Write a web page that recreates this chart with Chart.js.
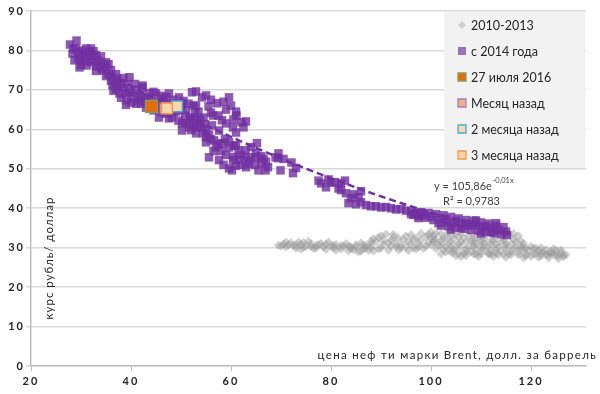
<!DOCTYPE html>
<html><head><meta charset="utf-8">
<script src="https://cdn.jsdelivr.net/npm/chart.js"></script>
<style>html,body{margin:0;padding:0;background:#fff;}canvas{display:block;}</style>
</head><body>
<canvas id="c" width="600" height="394"></canvas>
<script>
// ---------- data ----------
const seriesNames = ['2010-2013', 'с 2014 года', '27 июля 2016', 'Месяц назад', '2 месяца назад', '3 месяца назад'];
const xTickValues = [20, 40, 60, 80, 100, 120];
const yTickValues = [0, 10, 20, 30, 40, 50, 60, 70, 80, 90];
const xTitle = 'цена неф ти марки Brent, долл. за баррель';
const yTitle = 'курс рубль/ доллар';
const eqMain = 'y = 105,86e';
const eqSup = '-0,01x';
const eqR2 = 'R² = 0,9783';

// 2010-2013 (Brent, RUB/USD)
const pts2010 = [
 [69.5,30.6],[70.5,30.9],[71,30.2],[72,31.2],[72.5,30.5],[73,29.9],[74,30.8],[74.5,31.3],[75,30.3],[76,30.9],
 [76.5,29.8],[77,30.5],[78,31],[78.5,30.2],[79,29.6],[80,30.4],[80.5,29.9],[81,30.8],[82,29.7],[82.5,30.4],
 [83,31],[84,30.2],[84.5,29.5],[85,30.7],[86,31.2],[86.5,29.8],[87,30.5],[87.5,29.3],[88,30.9],[85.5,28.9],
 [83.5,29.2],[79.5,31.4],[75.5,31.6],[73.5,31.4],
 [70,30.4],[71.5,30.7],[73,30.6],[74.5,30.1],[76,30.3],[77.5,30.8],[79,30.9],[80.5,30.6],[82,30.5],[83.5,30.4],
 [85,30.2],[86.5,30.6],[88,30.1],[71,31.4],[74,29.6],[77,29.9],[81,29.4],[84,29.8],[87,29.9],[86,29.1],[88.5,29.2],
 [88.5,32.3],[89,31.5],[90,33],[90.5,30.8],[91,33.4],[91.5,31.2],[92,30.4],[92.5,32.6],[93,31],[94,30.6],
 [94.5,32],[95,30.2],[95.5,31.5],[96,33.3],[96.5,30],[97,32.4],[97.5,31],[98,33.6],[98.5,29.8],[99,32.8],
 [99.5,31.2],[100,34],[89.5,29.7],[93.5,29.5],
 [88,31.6],[89.5,32.6],[90.5,31.8],[92,31.9],[93.5,32.4],[95,33],[96.5,32.2],[97,29.6],[98,31.8],[99.5,33.3],
 [90,29.9],[91.5,29.4],[94,29.9],[95.5,29.3],[97.5,30.2],[99,30.4],[92.5,33.4],[96,31],[93,30.3],[100,30.8],[100,32.6],
 [100.5,33],[101,32],[101.5,30.5],[102,33.5],[102.5,29.5],[103,32.4],[103.5,31],[104,33.2],[104.5,28.8],[105,30.2],
 [105.5,32.8],[106,31.5],[106.5,28.5],[107,29.6],[107.5,33],[108,31.8],[108.5,30.4],[109,28.3],[109.5,32.5],[110,29.2],
 [110.5,31.2],[111,33.3],[111.5,28.6],[112,30.8],[112.5,32.2],[113,29.5],[113.5,28.2],[114,31.5],[114.5,32.8],[115,29.8],
 [115.5,28.5],[116,31],[116.5,33.5],[117,30.2],[117.5,28.8],[118,29.6],[102,31.6],[104,30],[106,33.8],[108,29],
 [110,30.5],[112,28.3],[114,29.2],[116,28.2],[103,28.9],[105,27.9],[107,28],[109,30.9],[111,29.9],
 [101,33.6],[103.5,33.8],[105,33.5],[108.5,33.4],[110,33.7],[112.5,33.2],[115.5,33.3],[117.5,33],
 [100.5,32],[102.5,32.5],[104.5,32.2],[106.5,32.5],[108.5,32.2],[110.5,32.4],[112.5,31.7],[114.5,31.9],[116.5,32.2],[118,31.6],
 [100.5,31.4],[102,30.8],[104,31.4],[105.5,31],[107,31.5],[108.5,31.2],[110,31.8],[111.5,31.4],[113,30.8],[115,31],[117,31.5],[118.5,31],
 [101,29.8],[103,30.2],[104.5,29.6],[106,30.3],[107.5,30.1],[109,29.6],[110.5,30.1],[112,29.6],[113.5,30.3],[115,30.4],[116.5,29.7],[118,30.3],
 [102,28.4],[104,28.8],[105.5,28.6],[107,28.8],[108.5,28.4],[110,28.5],[111.5,28.4],[113,28.6],[114.5,28.4],[116,28.9],[117.5,28.2],[119,27.9],
 [106,27.7],[109.5,27.8],[112.5,27.8],[115,27.6],[118.5,27.5],
 [118.5,30],[119,28.5],[119.5,29.3],[120,27.8],[120.5,29.8],[121,28.6],[121.5,29.2],[122,27.9],[122.5,28.8],[123,29.5],
 [123.5,28.2],[124,29],[124.5,28.4],[125,29.3],[125.5,28],[126,28.8],[126.5,28.1],[120,30.3],[122,30],
 [119,29.8],[120.5,28.4],[121,29.9],[122,28.7],[123,28.3],[124,28.6],[125,28.1],[126,29.4],[127,28.2],[124.5,29.7],
 [126.5,27.7],[121.5,27.6],[123.5,27.4],[125.5,27.2]
];

// since 2014 (Brent, RUB/USD)
const pts2014 = [
 [96,38.5],[97,38.8],[97.5,37.5],[98,39],[98.5,38.2],[99,37.6],[99.5,38.8],[100,37.9],[100.5,37],[101,38.5],
 [101.5,36.2],[102,37.5],[102.5,38.2],[103,36.5],[103.5,35.4],[104,37.8],[104.5,36.3],[105,35.1],[105.5,37.4],[106,36.2],
 [106.5,34.8],[107,37],[107.5,35.6],[108,34.5],[108.5,36.8],[109,35.7],[109.5,34.3],[110,36.4],[110.5,35.3],[111,34],
 [111.5,36.1],[112,35],[112.5,33.7],[113,35.6],[113.5,34.4],[114,33.4],[114.5,35.2],[115,34.1],[115.2,33.2],[102,35.6],
 [104,34.6],[106,35.1],[108,35.9],[110,33.6],[112,34],[103,37.2],[105,36.8],[107,36.1],[109,36.9],[111,35.5],[113,36.2],
 [89,40.5],[90,40.2],[91,40.3],[92,40],[93,39.7],[94,39.8],[95,39.4],[96,39.2],[97,38.7],[96.5,38.3],[97.5,38],
 [83.5,41.3],[84,42.5],[85,41],[85.5,42.8],[86,41.5],[87,40.8],[88,40.5],[84.5,43.5],[86,44.3],
 [77.5,47],[78,46.3],[79,45.3],[80,46.5],[80.8,46.6],[81.5,45],[82,46.3],[82.8,47],[83,43.8],[82,44.6],[79.5,47.3],
 [68.9,52.9],[69.5,53.9],[69.9,49.6],[72.1,51.6],[70.5,52.5],[73,50.2],[72.4,48.9],[69.4,52.7],
 [60.2,49.6],[61,50.8],[62,51],[63,50.4],[63.5,52],[64,52.9],[64.9,52.9],[65.5,49.6],[66.1,51.4],[66.9,49.6],
 [67,51.8],[62.9,54.7],[61.5,54.7],[62,53.5],[60.5,53],[59.6,55.4],[61,56],[58.2,56.5],[57,55.4],[56,57.5],
 [55,58],[55,56.7],[57.6,52.2],[55.6,52.9],[58.5,51],[59.6,50.1],[64,55.5],[65,54],[66,53.2],[65.2,56.5],
 [44,65.8],[45.2,66.2],[46.5,65],[48,65],[49,66.2],[50.2,66.5],[50.8,63.4],[51.8,62.5],[52.8,64],[53.8,62.5],
 [54.8,61.3],[53.2,60.5],[52,59.8],[54.4,59],[55.6,58.7],[56.6,57.2],[57.5,56.2],[58.8,57.6],[59.6,56.8],[60.6,55.8],
 [58,54.5],[59,53.5],[60.4,52.2],[61.6,52.4],[62.8,53],[63.6,51.2],[64.8,51],[66.5,52.6],[67.4,50.4],[56.5,54.5],
 [48.5,64.3],[47.6,62.8],[46.2,64.3],
 [52.2,69.4],[53,69.6],[54.2,68.1],[55,68.6],[56,67.5],[57.2,66.6],[59.6,68.1],[58.5,67],[60,66],[61.1,63.5],
 [62.1,61.8],[61,64.5],[59,61.5],[58.2,62.3],[57.6,59.7],[56.2,61],[55,59.7],[53.6,61.5],[54.5,63],[56,64.2],
 [57.5,63.5],[59,65],[60.5,62.5],[61,59.2],[62.5,60.5],[63,62],[53,66],[55.5,65.8],[56.4,63.5],[60.4,60.5],
 [45,69.1],[47.6,69.1],[49.6,68.1],[48.5,67.5],[46.5,67.8],[50.5,67.2],[51.5,66.5],[52.5,66],[50,65.5],[48.2,63],
 [51.6,60.5],[51,61.5],[51,64.8],[53,62.3],[50.2,61.5],[53,59],[52,63],[49,64.5],[47,64],[45.6,63],
 [50.2,59.7],[54,60.5],[46,65.5],[44.5,64.8],[43,65.5],[42,66.5],[47.5,66],[53.5,64.5],[49.5,62.2],[52.5,61],
 [27.8,81.5],[29.1,82.5],[28.3,79.2],[28.7,77.5],[30.3,79.2],[30.3,80],[31.7,78.7],[32.3,78.2],[33.3,77.5],[33.7,76.7],
 [29.7,75.7],[31.1,76.2],[34.3,74.9],[35.1,75.7],[36.1,73.2],[36.3,71.1],[37.7,69.1],[39.1,67.3],[39.7,73.2],[42.3,71.1],
 [41.7,68.6],[42.3,70.6],[35,77],[34,78.5],[32.5,79.8],[29.5,78],[31,77.3],[36.8,72],[37.5,71],[38.5,70.5],
 [38,68],[39.5,69.5],[40.5,68],[41,70],[40,66.8],[43,68],[43.5,66.5],[44,67.2],[38.5,73],[37,74],
 [36,75],[35.5,74],[33,76],[30.5,78.5],[32,80.5],[29,80.5],[36.5,69.8],[41,66.5],[44.5,69.5],[46,68.5],
 [28.5,80.5],[29.5,79.5],[30,77.5],[31.5,79.5],[32,77],[33,78.8],[34.5,76.2],[35.5,76.5],[34,75.5],[33,74.8],
 [35,73.5],[36,72.3],[37.2,72.8],[37,70.2],[38,71.7],[38.8,69.2],[39.3,71.5],[40,69.3],[40.8,71.5],[41.5,67.3],
 [42.8,67],[43.5,69.2],[42,68.2],[39,66.2],[45.5,67],[47,68.2],[48,66.5],[46,66.5],[31,80.5],[30,76.3]
];

const ptJuly27 = [[44.1, 65.8]];
const ptMonth1 = [[46.8, 65.3]];
const ptMonth2 = [[49.2, 65.8]];
const ptMonth3 = [[47.2, 65.3]];

// exponential trendline
const trendX = [28, 40, 50, 60, 70, 80, 90, 100, 110, 115];
const trendY = [80.0, 71.0, 64.2, 58.1, 52.6, 47.6, 43.0, 38.9, 35.2, 33.5];

// ---------- styles ----------
const toXY = a => a.map(p => ({x: p[0], y: p[1]}));
const purple = 'rgba(112,48,160,0.8)';
const grey = 'rgba(150,150,150,0.45)';

// index 0 is drawn on top
const datasets = [
  {label: seriesNames[2], data: toXY(ptJuly27), pointStyle: 'rect', pointRadius: 8.4,
   backgroundColor: '#e36c09', borderColor: '#8c9a5a', borderWidth: 1.5},
  {label: seriesNames[5], data: toXY(ptMonth3), pointStyle: 'rect', pointRadius: 7.6,
   backgroundColor: '#fcd5b5', borderColor: '#f79646', borderWidth: 1.5},
  {label: seriesNames[4], data: toXY(ptMonth2), pointStyle: 'rect', pointRadius: 7.6,
   backgroundColor: '#fcd5b5', borderColor: '#4bacc6', borderWidth: 1.5},
  {label: seriesNames[3], data: toXY(ptMonth1), pointStyle: 'rect', pointRadius: 7.6,
   backgroundColor: '#fac090', borderColor: '#8064a2', borderWidth: 1.5},
  {label: seriesNames[1], data: toXY(pts2014), pointStyle: 'rect', pointRadius: 6,
   backgroundColor: purple, borderWidth: 0},
  {label: 'trend', type: 'line', data: trendX.map((x, i) => ({x, y: trendY[i]})),
   borderColor: '#7030a0', borderWidth: 2.5, borderDash: [7, 4], pointRadius: 0, fill: false,
   cubicInterpolationMode: 'monotone', showLine: true},
  {label: seriesNames[0], data: toXY(pts2010), pointStyle: 'rectRot', pointRadius: 4.6,
   backgroundColor: grey, borderWidth: 0}
];

const legendItems = [
  {text: seriesNames[0], shape: 'diamond', fill: '#d0d0d0', stroke: null},
  {text: seriesNames[1], shape: 'rect', fill: '#9a70c0', stroke: null},
  {text: seriesNames[2], shape: 'rect', fill: '#e36c09', stroke: '#8c9a5a'},
  {text: seriesNames[3], shape: 'rect', fill: '#f4b183', stroke: '#9c80b8'},
  {text: seriesNames[4], shape: 'rect', fill: '#fcd5b5', stroke: '#4bacc6'},
  {text: seriesNames[5], shape: 'rect', fill: '#fcd5b5', stroke: '#f79646'}
];

const decorPlugin = {
  id: 'decor',
  beforeDraw(chart) { chart.ctx.letterSpacing = '2px'; },
  afterDraw(chart) {
    const ctx = chart.ctx;
    ctx.save();
    // axis titles
    ctx.fillStyle = '#262626';
    ctx.letterSpacing = '1.3px';
    ctx.font = '11.5px Lato';
    ctx.textAlign = 'right'; ctx.textBaseline = 'middle';
    ctx.fillText(xTitle, 597, 355);
    ctx.save();
    ctx.letterSpacing = '1px';
    ctx.translate(49, 258); ctx.rotate(-Math.PI / 2);
    ctx.textAlign = 'center';
    ctx.fillText(yTitle, 0, 0);
    ctx.restore();
    // trend equation
    ctx.letterSpacing = '0px';
    ctx.fillStyle = '#404040';
    ctx.textAlign = 'left';
    ctx.font = '11px Lato';
    ctx.fillText(eqMain, 434, 186);
    const w = ctx.measureText(eqMain).width;
    ctx.font = '7.5px Lato';
    ctx.fillText(eqSup, 434 + w + 0.5, 181);
    ctx.font = '11px Lato';
    ctx.fillText(eqR2, 443, 201);
    // legend
    ctx.fillStyle = '#f2f2f2';
    ctx.fillRect(444, 12, 141, 156);
    ctx.font = '12.5px Lato';
    ctx.textBaseline = 'middle';
    legendItems.forEach((it, i) => {
      const cy = 25 + i * 26, cx = 462;
      ctx.beginPath();
      if (it.shape === 'diamond') {
        ctx.moveTo(cx, cy - 4); ctx.lineTo(cx + 4, cy); ctx.lineTo(cx, cy + 4); ctx.lineTo(cx - 4, cy); ctx.closePath();
      } else {
        ctx.rect(cx - 4, cy - 4, 8, 8);
      }
      ctx.fillStyle = it.fill; ctx.fill();
      if (it.stroke) { ctx.strokeStyle = it.stroke; ctx.lineWidth = 1.3; ctx.stroke(); }
      ctx.fillStyle = '#262626';
      ctx.fillText(it.text, 471, cy + 0.5);
    });
    ctx.restore();
    ctx.letterSpacing = '0px';
  }
};

new Chart(document.getElementById('c'), {
  type: 'scatter',
  data: {datasets},
  options: {
    responsive: false,
    animation: false,
    events: [],
    layout: {padding: {top: 11, right: 14, left: 0, bottom: 0}},
    plugins: {legend: {display: false}, tooltip: {enabled: false}},
    scales: {
      x: {
        type: 'linear', min: 20, max: 131,
        afterBuildTicks: s => { s.ticks = xTickValues.map(v => ({value: v})); },
        afterFit: s => { s.height = 28; },
        grid: {drawOnChartArea: false, drawTicks: true, tickLength: 5, color: '#bfbfbf', lineWidth: 1},
        border: {display: true, color: '#bfbfbf', width: 1.5},
        ticks: {font: {family: 'Lato', size: 11, weight: 'bold'}, color: '#262626', padding: 4, maxRotation: 0}
      },
      y: {
        type: 'linear', min: 0, max: 90,
        afterBuildTicks: s => { s.ticks = yTickValues.map(v => ({value: v})); },
        afterFit: s => { s.width = 31; },
        grid: {color: '#d9d9d9', lineWidth: 1.5, drawTicks: true, tickLength: 5},
        border: {display: true, color: '#bfbfbf', width: 1.5},
        ticks: {font: {family: 'Lato', size: 11, weight: 'bold'}, color: '#262626', padding: 1}
      }
    }
  },
  plugins: [decorPlugin]
});
</script>
</body></html>
